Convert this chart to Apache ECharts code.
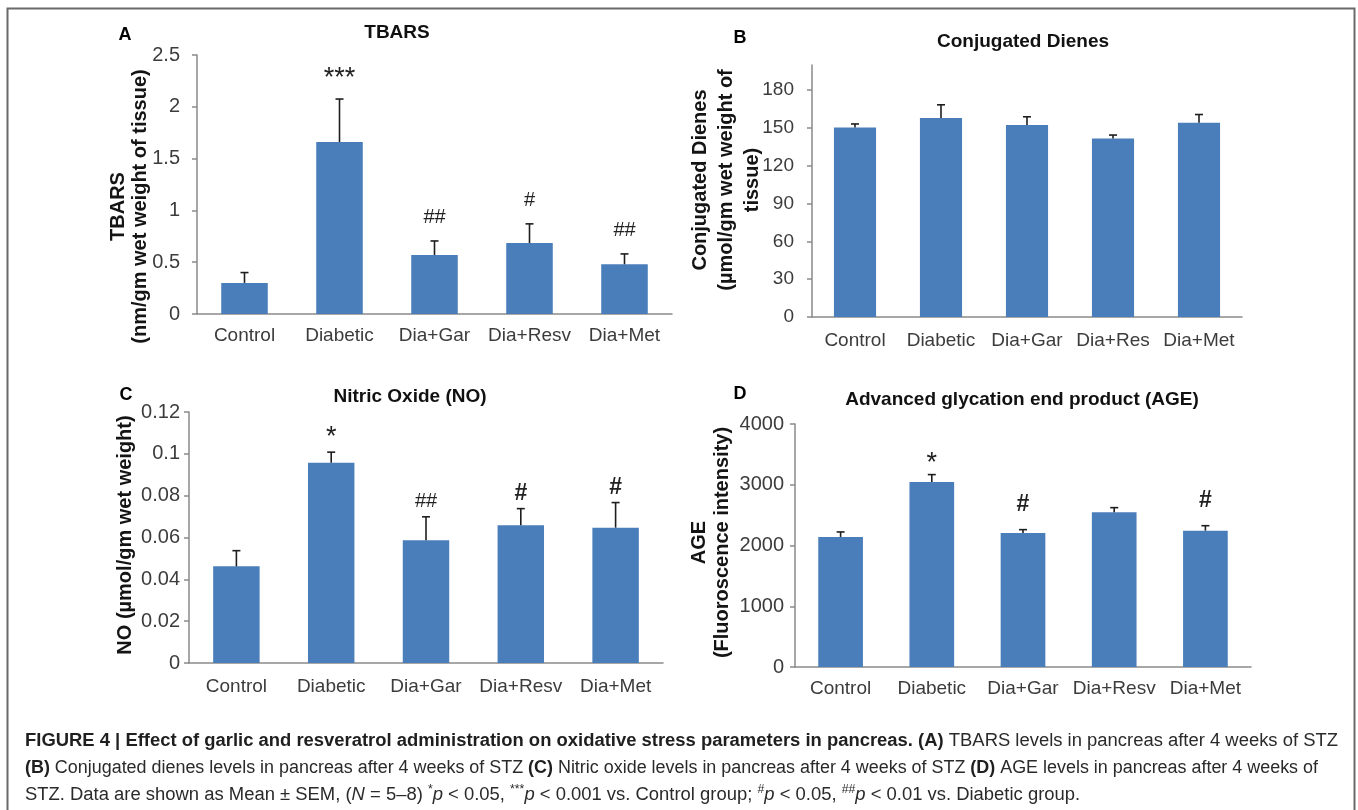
<!DOCTYPE html>
<html>
<head>
<meta charset="utf-8">
<script src="https://cdn.jsdelivr.net/npm/echarts@6/dist/echarts.min.js"></script>
<style>
html,body{margin:0;padding:0;background:#fff;}
#chart{width:1358px;height:810px;}
</style>
</head>
<body>
<div id="chart"></div>
<script>
// ---------------- DATA ----------------
const groupsA = ['Control', 'Diabetic', 'Dia+Gar', 'Dia+Resv', 'Dia+Met'];
const groupsB = ['Control', 'Diabetic', 'Dia+Gar', 'Dia+Res', 'Dia+Met'];
const groupsC = ['Control', 'Diabetic', 'Dia+Gar', 'Dia+Resv', 'Dia+Met'];
const groupsD = ['Control', 'Diabetic', 'Dia+Gar', 'Dia+Resv', 'Dia+Met'];

const tbarsMean = [0.30, 1.66, 0.57, 0.685, 0.48];
const tbarsSem  = [0.10, 0.415, 0.135, 0.185, 0.10];
const tbarsSig  = ['', '***', '##', '#', '##'];

const dienesMean = [150.4, 158.0, 152.3, 141.7, 154.1];
const dienesSem  = [2.8, 10.4, 6.6, 2.7, 6.6];
const dienesSig  = ['', '', '', '', ''];

const noMean = [0.0462, 0.0957, 0.0587, 0.0658, 0.0647];
const noSem  = [0.0075, 0.0051, 0.0112, 0.0080, 0.0120];
const noSig  = ['', '*', '##', '#', '#'];

const ageMean = [2141, 3046, 2206, 2546, 2244];
const ageSem  = [82, 121, 55, 77, 82];
const ageSig  = ['', '*', '#', '', '#'];

const ticksB = [0, 30, 60, 90, 120, 150, 180];

const panelTitles = ['TBARS', 'Conjugated Dienes', 'Nitric Oxide (NO)', 'Advanced glycation end product (AGE)'];
const panelLetters = ['A', 'B', 'C', 'D'];
const yNames = [
  'TBARS\n(nm/gm wet weight of tissue)',
  'Conjugated Dienes\n(\u00b5mol/gm wet weight of\ntissue)',
  'NO (\u00b5mol/gm wet weight)',
  'AGE\n(Fluoroscence intensity)'
];

const captionLines = [
  [['b', 'FIGURE 4 | Effect of garlic and resveratrol administration on oxidative stress parameters in pancreas. (A)'],
   ['r', ' TBARS levels in pancreas after 4 weeks of STZ']],
  [['b', '(B)'], ['r', ' Conjugated dienes levels in pancreas after 4 weeks of STZ '],
   ['b', '(C)'], ['r', ' Nitric oxide levels in pancreas after 4 weeks of STZ '],
   ['b', '(D)'], ['r', ' AGE levels in pancreas after 4 weeks of']],
  [['r', 'STZ. Data are shown as Mean \u00b1 SEM, ('], ['i', 'N'], ['r', ' = 5\u20138) '],
   ['s', '*'], ['i', 'p'], ['r', ' < 0.05, '], ['s', '***'], ['i', 'p'], ['r', ' < 0.001 vs. Control group; '],
   ['s', '#'], ['i', 'p'], ['r', ' < 0.05, '], ['s', '##'], ['i', 'p'], ['r', ' < 0.01 vs. Diabetic group.']]
];

// ---------------- STYLE / LAYOUT ----------------
const FONT = '"Liberation Sans", Arial, Helvetica, sans-serif';
const AXIS_GRAY = '#8a8a8a';
const BAR_BLUE = '#4a7ebb';
const TEXT_DARK = '#3c3c3c';

const panels = [
  { cats: groupsA, mean: tbarsMean, sem: tbarsSem, sig: tbarsSig,
    grid: { left: 197, top: 55, width: 475, height: 259 },
    y: { min: 0, max: 2.5, interval: 0.5 }, yLabelMargin: 17, yLabelSize: 20, xMargin: 12,
    nameGap: 46, nameLH: 22, namePad: [0, 44, 0, 0], hashOff: 23, starOff: 20, boldHash: false },
  { cats: groupsB, mean: dienesMean, sem: dienesSem, sig: dienesSig,
    grid: { left: 812, top: 65, width: 430, height: 252 },
    y: { min: 0, max: 200, interval: 30, custom: ticksB }, yLabelMargin: 18, yLabelSize: 19, xMargin: 14,
    nameGap: 47, nameLH: 26, namePad: [0, 0, 0, 22], hashOff: 20, starOff: 15, boldHash: false },
  { cats: groupsC, mean: noMean, sem: noSem, sig: noSig,
    grid: { left: 189, top: 412, width: 474, height: 251 },
    y: { min: 0, max: 0.12, interval: 0.02 }, yLabelMargin: 9, yLabelSize: 20, xMargin: 14,
    nameGap: 53, nameLH: 22, namePad: [0, 0, 0, 5], hashOff: 15, starOff: 15, boldHash: true },
  { cats: groupsD, mean: ageMean, sem: ageSem, sig: ageSig,
    grid: { left: 795, top: 424, width: 456, height: 243 },
    y: { min: 0, max: 4000, interval: 1000 }, yLabelMargin: 11, yLabelSize: 20, xMargin: 12,
    nameGap: 61, nameLH: 23, namePad: [0, 0, 0, 6], hashOff: 25, starOff: 11, boldHash: true }
];

const letterPos = [[125, 35], [740, 38], [126, 395], [740, 394]];
const titlePos = [[397, 33], [1023, 42], [410, 397], [1022, 400]];

// ---------------- BUILD ----------------
const chart = echarts.init(document.getElementById('chart'), null, { renderer: 'canvas' });

const grids = [], xAxes = [], yAxes = [], series = [];

panels.forEach((p, k) => {
  grids.push(Object.assign({ containLabel: false, outerBoundsMode: 'none' }, p.grid));
  xAxes.push({
    type: 'category', gridIndex: k, data: p.cats,
    axisLine: { show: true, lineStyle: { color: AXIS_GRAY, width: 1.5 } },
    axisTick: { show: false },
    axisLabel: { interval: 0, fontFamily: FONT, fontSize: 19, color: TEXT_DARK, margin: p.xMargin }
  });
  const yAx = {
    type: 'value', gridIndex: k, min: p.y.min, max: p.y.max, interval: p.y.interval,
    axisLine: { show: true, lineStyle: { color: AXIS_GRAY, width: 1.5 } },
    axisTick: { show: true, inside: false, length: 5, lineStyle: { color: AXIS_GRAY, width: 1.5 } },
    splitLine: { show: false },
    axisLabel: { fontFamily: FONT, fontSize: p.yLabelSize, color: TEXT_DARK, margin: p.yLabelMargin,
                 formatter: v => String(v) },
    name: yNames[k], nameLocation: 'middle', nameRotate: 90, nameGap: p.nameGap,
    nameMoveOverlap: false,
    nameTextStyle: { fontFamily: FONT, fontSize: 20, fontWeight: 'bold', color: '#141414',
                     lineHeight: p.nameLH, padding: p.namePad, align: 'center' }
  };
  if (p.y.custom) {
    yAx.axisLabel.customValues = p.y.custom;
    yAx.axisTick.customValues = p.y.custom;
  }
  yAxes.push(yAx);

  series.push({
    type: 'bar', xAxisIndex: k, yAxisIndex: k, data: p.mean,
    barWidth: '49%', itemStyle: { color: BAR_BLUE }, silent: true
  });

  series.push({
    type: 'custom', xAxisIndex: k, yAxisIndex: k, z: 10, silent: true,
    data: p.mean.map((m, i) => [i, m, m + p.sem[i]]),
    renderItem: (params, api) => {
      const i = api.value(0);
      const a = api.coord([i, api.value(1)]);
      const b = api.coord([i, api.value(2)]);
      const children = [
        { type: 'line', shape: { x1: b[0], y1: a[1], x2: b[0], y2: b[1] },
          style: { stroke: '#1e1e1e', lineWidth: 1.6 } },
        { type: 'line', shape: { x1: b[0] - 4, y1: b[1], x2: b[0] + 4, y2: b[1] },
          style: { stroke: '#1e1e1e', lineWidth: 1.6 } }
      ];
      const s = p.sig[params.dataIndex];
      if (s) {
        const star = s.indexOf('*') >= 0;
        let fs = 20, fw = 'normal';
        if (star) fs = 27;
        else if (s === '#' && p.boldHash) { fs = 23; fw = 'bold'; }
        children.push({
          type: 'text', x: b[0], y: b[1] - (star ? p.starOff : p.hashOff),
          style: { text: s, fontFamily: FONT, fontSize: fs, fontWeight: fw, fill: '#222',
                   align: 'center', verticalAlign: 'middle' }
        });
      }
      return { type: 'group', children };
    }
  });
});

// ---------------- GRAPHIC TEXTS ----------------
const graphics = [];
graphics.push({ type: 'rect', silent: true, z: -1,
  shape: { x: 7.5, y: 8.5, width: 1347, height: 830 },
  style: { fill: 'none', stroke: '#6a6a6a', lineWidth: 2 } });

panelLetters.forEach((t, k) => graphics.push({
  type: 'text', x: letterPos[k][0], y: letterPos[k][1], silent: true,
  style: { text: t, fontFamily: FONT, fontSize: 18, fontWeight: 'bold', fill: '#000',
           align: 'center', verticalAlign: 'middle' }
}));
panelTitles.forEach((t, k) => graphics.push({
  type: 'text', x: titlePos[k][0], y: titlePos[k][1], silent: true,
  style: { text: t, fontFamily: FONT, fontSize: 19, fontWeight: 'bold', fill: '#111',
           align: 'center', verticalAlign: 'middle' }
}));

// clipped bottom of panel D category labels (as in the reference)
graphics.push({ type: 'rect', silent: true, z: 100,
  shape: { x: 780, y: 697, width: 490, height: 12 }, style: { fill: '#fff' } });

// caption
const CAP_SIZE = 18;
const capRich = {
  b: { fontFamily: FONT, fontSize: CAP_SIZE, fontWeight: 'bold', fill: '#1f1f1f', lineHeight: 22 },
  r: { fontFamily: FONT, fontSize: CAP_SIZE, fontWeight: 'normal', fill: '#2a2a2a', lineHeight: 22 },
  i: { fontFamily: FONT, fontSize: CAP_SIZE, fontStyle: 'italic', fill: '#2a2a2a', lineHeight: 22 },
  s: { fontFamily: FONT, fontSize: 12, fill: '#2a2a2a', lineHeight: 12, verticalAlign: 'top' }
};
const mctx = document.createElement('canvas').getContext('2d');
function segWidth(k, t) {
  const s = capRich[k];
  mctx.font = (s.fontStyle || 'normal') + ' ' + (s.fontWeight || 'normal') + ' ' + s.fontSize + 'px ' + FONT;
  return mctx.measureText(t).width;
}
function lineWidth(segs) { return segs.reduce((w, sg) => w + segWidth(sg[0], sg[1]), 0); }
const capLeft = 25;
const capRight = [1338, 1318, null];       // right ends of the full lines in the reference
const capScale1 = (capRight[0] - capLeft) / lineWidth(captionLines[0]);
const capY = [741, 768, 795];
captionLines.forEach((segs, li) => {
  const sx = capRight[li] ? (capRight[li] - capLeft) / lineWidth(segs) : capScale1;
  graphics.push({
    type: 'text', x: capLeft, y: capY[li], scaleX: sx, silent: true,
    style: {
      text: segs.map(sg => '{' + sg[0] + '|' + sg[1] + '}').join(''),
      rich: capRich, align: 'left', verticalAlign: 'middle', fill: '#2a2a2a',
      fontFamily: FONT, fontSize: CAP_SIZE
    }
  });
});

chart.setOption({
  animation: false,
  backgroundColor: '#ffffff',
  grid: grids,
  xAxis: xAxes,
  yAxis: yAxes,
  series: series,
  graphic: graphics
});
</script>
</body>
</html>
